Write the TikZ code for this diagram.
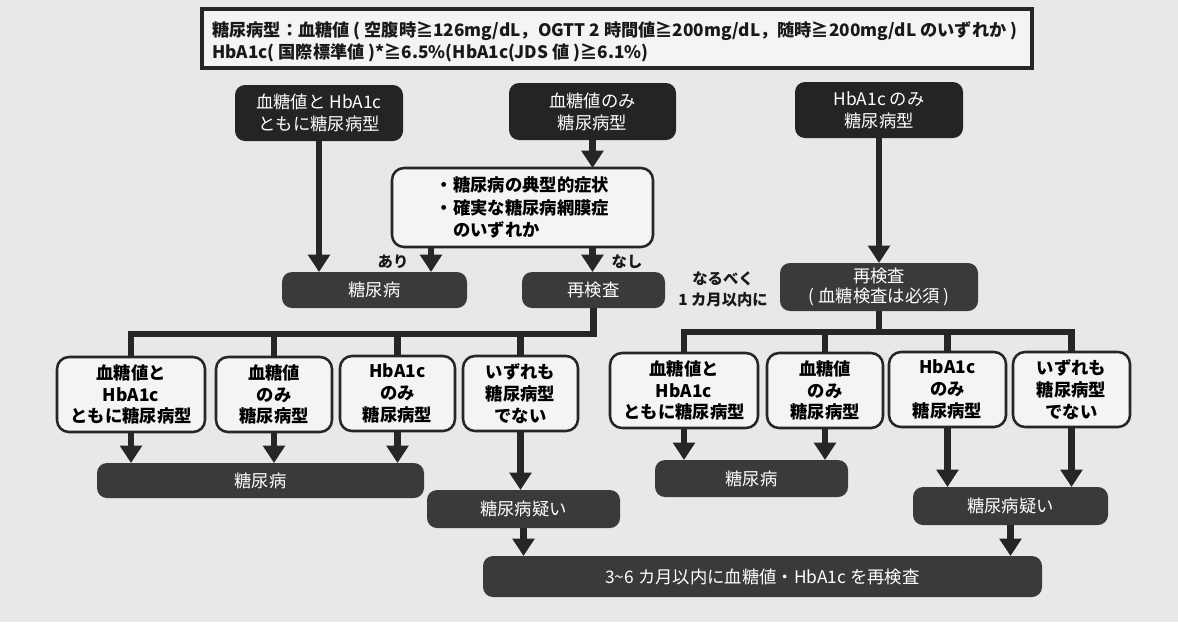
\documentclass[tikz,border=0pt]{standalone}
\usepackage{fontspec}
\setmainfont{Noto Sans CJK JP}
\usetikzlibrary{arrows.meta,calc}
\definecolor{bg}{HTML}{E8E8E8}
\definecolor{dk}{HTML}{242424}
\definecolor{dm}{HTML}{3A3A3A}
\definecolor{wf}{HTML}{F4F4F4}
\definecolor{ln}{HTML}{262626}
\newcommand\bx[7]{%
  \pgfmathsetmacro\bxw{(#4-#2)*0.75}%
  \pgfmathsetmacro\bxh{(#5-#3)*0.75}%
  \node[#6, minimum width=\bxw pt, minimum height=\bxh pt] (#1) at ({(#2+#4)/2},{(#3+#5)/2}) {#7};}
\tikzset{
  base/.style={inner sep=0pt, outer sep=0pt, align=center, font=\fontsize{13}{16.5}\selectfont},
  darkbox/.style={base, fill=dk, text=white, rounded corners=7.5pt},
  midbox/.style={base, fill=dm, text=white, rounded corners=7.5pt},
  whitebox/.style={base, fill=wf, draw=ln, line width=1.9pt, rounded corners=9pt, font=\fontsize{13}{16.3}\selectfont\bfseries},
  topbox/.style={inner sep=0pt, outer sep=0pt, fill=wf, draw=ln, line width=2.4pt},
  toptxt/.style={inner sep=0pt, font=\fontsize{12.9}{15}\selectfont\bfseries, text=black!90},
  conn/.style={draw=ln, line width=4.6pt},
  arr/.style={conn, -{Triangle[width=16pt,length=13pt]}},
  lbl/.style={inner sep=0pt, font=\fontsize{11.5}{15.5}\selectfont\bfseries, align=center, text=black!90},
}
\begin{document}
\begin{tikzpicture}[x=0.75pt,y=-0.75pt]
\useasboundingbox (0,0) rectangle (1178,622);
\fill[bg] (0,0) rectangle (1178,622);
% header
\bx{top}{202}{9}{1032}{68}{topbox}{}
\node[toptxt, anchor=west] (t1) at (212,31) {糖尿病型：血糖値 ( 空腹時≧126mg/dL，OGTT 2 時間値≧200mg/dL，随時≧200mg/dL のいずれか )};
\node[toptxt, anchor=west] (t2) at (212,53) {HbA1c( 国際標準値 )*≧6.5\%(HbA1c(JDS 値 )≧6.1\%)};
% top row
\bx{A}{235}{85}{403}{141}{darkbox}{血糖値と HbA1c\\ともに糖尿病型}
\bx{B}{509}{83}{676}{140}{darkbox}{血糖値のみ\\糖尿病型}
\bx{C}{795}{82}{963}{138}{darkbox}{HbA1c のみ\\糖尿病型}
\bx{cond}{392}{168}{653}{247}{whitebox, align=left, font=\fontsize{13}{17}\selectfont\bfseries}{・糖尿病の典型的症状\\・確実な糖尿病網膜症\\　のいずれか}
\bx{dm1}{282}{272}{467}{308}{midbox}{糖尿病}
\bx{rk1}{522}{272}{665}{308}{midbox}{再検査}
\bx{rk2}{780}{263}{978}{311}{midbox, font=\fontsize{13}{15}\selectfont}{再検査\\( 血糖検査は必須 )}
\node[lbl] (ari) at (393,262) {あり};
\node[lbl] (nasi) at (627,262) {なし};
\node[lbl] (soon) at (723,289) {なるべく\\1 カ月以内に};
% left second row
\bx{L1}{57}{357}{205}{432}{whitebox}{血糖値と\\HbA1c\\ともに糖尿病型}
\bx{L2}{216}{357}{332}{432}{whitebox}{血糖値\\のみ\\糖尿病型}
\bx{L3}{340}{356}{455}{431}{whitebox}{HbA1c\\のみ\\糖尿病型}
\bx{L4}{463}{356}{578}{431}{whitebox}{いずれも\\糖尿病型\\でない}
% right second row
\bx{R1}{610}{353}{758}{428}{whitebox}{血糖値と\\HbA1c\\ともに糖尿病型}
\bx{R2}{767}{353}{883}{428}{whitebox}{血糖値\\のみ\\糖尿病型}
\bx{R3}{889}{352}{1006}{427}{whitebox}{HbA1c\\のみ\\糖尿病型}
\bx{R4}{1013}{352}{1130}{427}{whitebox}{いずれも\\糖尿病型\\でない}
% results
\bx{dm2}{97}{463}{424}{498}{midbox}{糖尿病}
\bx{dm3}{655}{460}{848}{497}{midbox}{糖尿病}
\bx{sus1}{427}{490}{620}{528}{midbox}{糖尿病疑い}
\bx{sus2}{913}{487}{1108}{525}{midbox}{糖尿病疑い}
\bx{fin}{483}{556}{1042}{597}{midbox}{3{\char"7E}6 カ月以内に血糖値・HbA1c を再検査}
% helper coordinates
\coordinate (xari) at (431,0);
\coordinate (busL) at (0,334);
\coordinate (busR) at (0,332);
% connectors top
\draw[arr] (A.south) -- (A.south |- dm1.north);
\draw[arr] (B.south) -- (B.south |- cond.north);
\draw[arr] (cond.south -| xari) -- (dm1.north -| xari);
\draw[arr] (cond.south -| B.south) -- (rk1.north -| B.south);
\draw[arr] (C.south) -- (rk2.north);
% left bus
\draw[conn] (rk1.south) -- (rk1.south |- busL) -- (L1.north |- busL) -- (L1.north);
\draw[conn] (L2.north |- busL) -- (L2.north);
\draw[conn] (L3.north |- busL) -- (L3.north);
\draw[conn] (L4.north |- busL) -- (L4.north);
% right bus
\draw[conn] (R1.north) -- (R1.north |- busR) -- (R4.north |- busR) -- (R4.north);
\draw[conn] (rk2.south) -- (rk2.south |- busR);
\draw[conn] (R2.north |- busR) -- (R2.north);
\draw[conn] (R3.north |- busR) -- (R3.north);
% lower arrows
\draw[arr] (L1.south) -- (L1.south |- dm2.north);
\draw[arr] (L2.south) -- (L2.south |- dm2.north);
\draw[arr] (L3.south) -- (L3.south |- dm2.north);
\draw[arr] (L4.south) -- (L4.south |- sus1.north);
\draw[arr] (R1.south) -- (R1.south |- dm3.north);
\draw[arr] (R2.south) -- (R2.south |- dm3.north);
\draw[arr] (R3.south) -- (R3.south |- sus2.north);
\draw[arr] (R4.south) -- (R4.south |- sus2.north);
\draw[arr] (sus1.south) -- (sus1.south |- fin.north);
\draw[arr] (sus2.south) -- (sus2.south |- fin.north);
\end{tikzpicture}
\end{document}
